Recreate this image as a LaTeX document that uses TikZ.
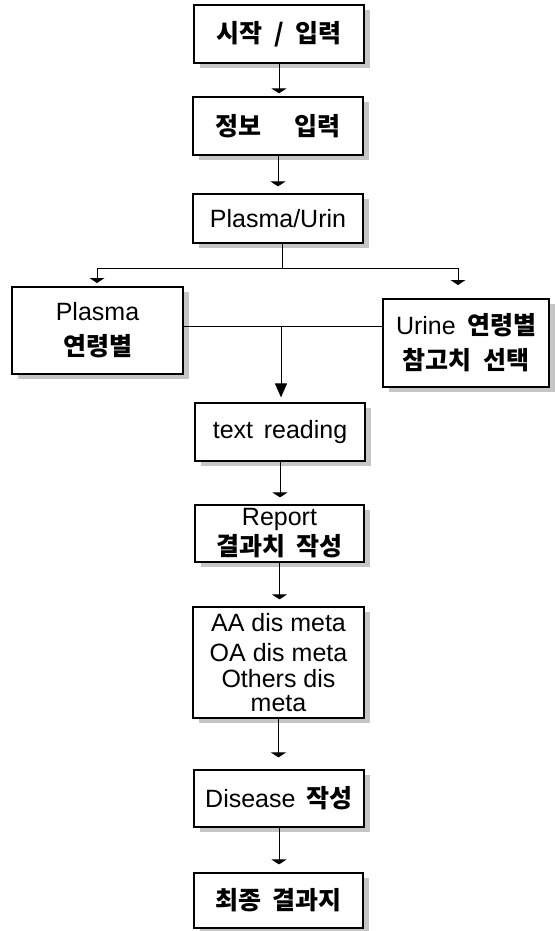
\documentclass[tikz,border=0pt]{standalone}
\usepackage{fontspec}
\setmainfont{Liberation Sans}
\newfontfamily\kr{Noto Sans CJK KR}[Scale=1.0]
\newcommand\ko[1]{{\kr\bfseries #1}}
\newcommand\ks{\hspace{0.45em}}
\usetikzlibrary{arrows.meta,shadows}
\tikzset{
  box/.style={draw, line width=1.2pt, fill=white, inner sep=0pt, align=center,
    font=\fontsize{25}{36}\selectfont,
    drop shadow={shadow xshift=6pt, shadow yshift=-5pt, fill=gray!45, opacity=1, draw=none}},
  arr/.style={line width=1pt, -{Triangle[width=15pt,length=5pt]}},
  bigarr/.style={line width=1pt, -{Triangle[width=12pt,length=14pt]}},
  conn/.style={line width=1pt}
}
\begin{document}
\begin{tikzpicture}[x=1pt,y=-1pt]
\useasboundingbox (0,0) rectangle (555,931);
\node[box, minimum width=170pt, minimum height=58pt] (n1) at (279,34) {\ko{시작\ks{}/\ks{}입력}};
\node[box, minimum width=170pt, minimum height=58pt] (n2) at (278,126) {\ko{정보\hspace{1.3em}입력}};
\node[box, minimum width=170pt, minimum height=49pt] (n3) at (278,218.5) {Plasma/Urin};
\node[box, minimum width=171pt, minimum height=87pt] (n4) at (97.5,330.5) {Plasma\\[-1pt]\ko{연령별}};
\node[box, minimum width=166pt, minimum height=88pt] (n5) at (466,343) {Urine\ks{}\ko{연령별}\\[-1pt]\ko{참고치\ks{}선택}};
\node[box, minimum width=170pt, minimum height=58pt] (n6) at (280,432) {text\hspace{0.15em} reading};
\node[box, minimum width=169pt, minimum height=57pt] (n7) at (279.5,533.5) {Report\\[-6pt]\ko{결과치\ks{}작성}};
\node[box, minimum width=171pt, minimum height=111pt] (n8) at (278.5,662.5) {AA dis meta\\[-6pt]OA dis meta\\[-10pt]Others dis\\[-12pt]meta};
\node[box, minimum width=170pt, minimum height=57pt] (n9) at (279,798.5) {Disease\ks{}\ko{작성}};
\node[box, minimum width=169pt, minimum height=55pt] (n10) at (278.5,900.5) {\ko{최종\ks{}결과지}};

\draw[arr, shorten >=3pt] (n1.south) -- (n1.south |- n2.north);
\draw[arr, shorten >=7pt] (n2.south) -- (n2.south |- n3.north);
\coordinate (br) at (282,268);
\coordinate (lt) at (97,283);
\coordinate (rt) at (458,285);
\draw[conn] (n3.south -| br) -- (br);
\draw[arr] (br) -| (lt);
\draw[arr] (br) -| (rt);
\coordinate (mj) at (281,326);
\draw[conn] (n4.east |- mj) -- (n5.west |- mj);
\draw[bigarr, shorten >=5pt] (mj) -- (mj |- n6.north);
\draw[arr, shorten >=7pt] (n6.south) -- (n6.south |- n7.north);
\draw[arr, shorten >=7pt] (n7.south) -- (n7.south |- n8.north);
\draw[arr, shorten >=12pt] (n8.south) -- (n8.south |- n9.north);
\draw[arr, shorten >=8pt] (n9.south) -- (n9.south |- n10.north);
\end{tikzpicture}
\end{document}
